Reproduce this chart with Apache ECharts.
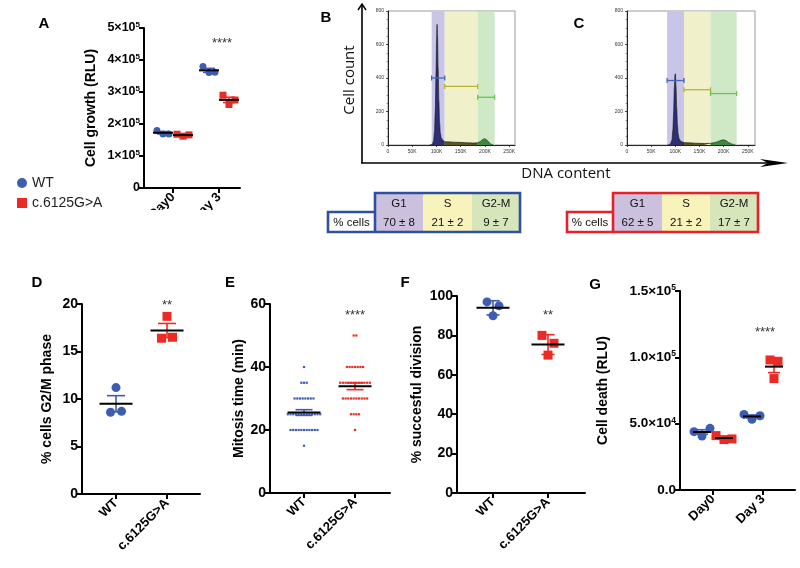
<!DOCTYPE html>
<html><head><meta charset="utf-8">
<script src="https://cdn.jsdelivr.net/npm/echarts@6/dist/echarts.min.js"></script>
<style>html,body{margin:0;padding:0;background:#fff}#c{width:800px;height:568px}</style>
</head><body><div id="c"></div><script>
// ---------------- data ----------------
const groupNames = ['WT', 'c.6125G>A'];
const dayNames = ['Day0', 'Day 3'];
// A: cell growth (RLU), [Day0, Day3]
const growthWT  = [[1.80e5, 1.69e5, 1.69e5], [3.80e5, 3.61e5, 3.62e5]];
const growthMut = [[1.68e5, 1.62e5, 1.66e5], [2.90e5, 2.61e5, 2.75e5]];
// D: % cells G2/M
const g2mWT  = [11.2, 8.6, 8.7];
const g2mMut = [18.7, 16.4, 16.5];
// E: mitosis time (min)
const mitosisWT  = [40,35,35,35,30,30,30,30,30,30,30,30,25,25,25,25,25,25,25,25,25,25,25,25,25,20,20,20,20,20,20,20,20,20,20,20,15];
const mitosisMut = [50,50,40,40,40,40,40,40,40,35,35,35,35,35,35,35,35,35,35,35,35,30,30,30,30,30,30,30,30,30,30,25,25,25,25,20];
// F: % successful division
const divisionWT  = [97, 95, 90];
const divisionMut = [80, 76, 70];
// G: cell death (RLU), [Day0, Day3]
const deathWT  = [[4.40e4, 4.07e4, 4.65e4], [5.70e4, 5.33e4, 5.60e4]];
const deathMut = [[4.10e4, 3.80e4, 3.85e4], [9.80e4, 8.40e4, 9.70e4]];
// B/C: DNA content histograms (x in K, cell count)
const dnaTicks = [0, 50, 100, 150, 200, 250];
const countTicks = [0, 200, 400, 600, 800];
const histB_G1 = [[86,0],[89,2],[92,8],[94,25],[96,80],[97.5,200],[99,420],[100.3,640],[101.2,720],[102.2,650],[103.5,460],[105,260],[106.5,130],[108,70],[110,42],[113,28],[117,20]];
const histB_S  = [[117,20],[125,19],[135,17],[145,16],[155,15],[165,13],[175,12],[185,13]];
const histB_G2 = [[185,13],[190,20],[195,32],[199,38],[203,32],[207,20],[211,8],[215,2],[218,0]];
const histC_G1 = [[83,0],[87,2],[90,8],[93,30],[95,90],[96.5,190],[98,340],[99.3,420],[100.3,425],[101.5,350],[103,220],[104.5,120],[106,65],[108,38],[111,24],[114,18],[118,15]];
const histC_S  = [[118,15],[130,13],[140,11],[150,10],[160,9],[173,10]];
const histC_G2 = [[173,10],[180,13],[188,20],[195,28],[200,31],[205,26],[211,14],[218,5],[225,0]];
// gates: [from, to, level]
const gatesB = [[90,117,400],[117,185,350],[185,220,285]];
const gatesC = [[83,118,385],[118,173,330],[173,227,307]];
// tables
const phases = ['G1', 'S', 'G2-M'];
const rowLabel = '% cells';
const pctWT  = ['70 ± 8', '21 ± 2', '9 ± 7'];
const pctMut = ['62 ± 5', '21 ± 2', '17 ± 7'];
const starsA = '****', starsD = '**', starsE = '****', starsF = '**', starsG = '****';

// ---------------- styling / layout ----------------
const FONT = 'Liberation Sans, Arial, Helvetica, sans-serif';
const BLUE = '#3d5db1', RED = '#ec2a24';
const P = {
  A: {grid:{left:144,top:28,width:96,height:160}, x:[0.37,2.457], y:[0,5e5], yi:1e5},
  D: {grid:{left:82,top:304,width:118,height:190}, x:[0.333,2.647], y:[0,20], yi:5},
  E: {grid:{left:270,top:304,width:120,height:189}, x:[0.333,2.686], y:[0,60], yi:20},
  F: {grid:{left:457,top:296,width:128,height:197}, x:[0.345,2.673], y:[0,100], yi:20},
  G: {grid:{left:680,top:291,width:115,height:199}, x:[0.34,2.64], y:[0,1.5e5], yi:5e4},
  B: {grid:{left:388,top:11,width:127,height:134}, x:[0,262]},
  C: {grid:{left:627,top:11,width:128,height:134}, x:[0,265]}
};
const order = ['A','D','E','F','G','B','C'];
const gi = k => order.indexOf(k);
const pxX = k => P[k].grid.width / (P[k].x[1]-P[k].x[0]);
const pxY = k => P[k].grid.height / (P[k].y[1]-P[k].y[0]);

const mean = a => a.reduce((s,v)=>s+v,0)/a.length;
const sd = a => { const m = mean(a); return Math.sqrt(a.reduce((s,v)=>s+(v-m)*(v-m),0)/(a.length-1)); };
const sem = a => sd(a)/Math.sqrt(a.length);

// row-based swarm: points closer than diam vertically share a row
function swarm(vals, center, k, diam, gap) {
  const ix = vals.map((v,i)=>i).sort((a,b)=>vals[a]-vals[b] || a-b);
  const rows = []; let cur = [];
  for (const i of ix) {
    if (cur.length && (vals[i]-vals[cur[cur.length-1]])*pxY(k) > diam) { rows.push(cur); cur = []; }
    cur.push(i);
  }
  if (cur.length) rows.push(cur);
  const pts = [];
  rows.forEach(r => { r.sort((a,b)=>a-b); r.forEach((i,j)=>{ pts[i] = [center + (j-(r.length-1)/2)*gap/pxX(k), vals[i]]; }); });
  return pts;
}
function dots(k, name, pts, symbol, size, color) {
  const s = {type:'scatter', xAxisIndex:gi(k), yAxisIndex:gi(k), data:pts, symbol, symbolSize:size,
    itemStyle:{color, opacity:1}, z:3, silent:true, animation:false};
  if (name) s.name = name;
  return s;
}
function meanErr(k, items, color, mw, cap) {
  return {type:'custom', xAxisIndex:gi(k), yAxisIndex:gi(k), z:5, silent:true, animation:false,
    data:items, encode:{x:0, y:1},
    renderItem:(params, api) => {
      const x = api.value(0), m = api.value(1), e = api.value(2);
      const c = api.coord([x,m]), t = api.coord([x,m+e]), b = api.coord([x,m-e]);
      const ls = () => ({stroke:color, lineWidth:1.6});
      return {type:'group', children:[
        {type:'line', shape:{x1:c[0],y1:t[1],x2:c[0],y2:b[1]}, style:ls()},
        {type:'line', shape:{x1:c[0]-cap/2,y1:t[1],x2:c[0]+cap/2,y2:t[1]}, style:ls()},
        {type:'line', shape:{x1:c[0]-cap/2,y1:b[1],x2:c[0]+cap/2,y2:b[1]}, style:ls()},
        {type:'line', shape:{x1:c[0]-mw/2,y1:c[1],x2:c[0]+mw/2,y2:c[1]}, style:{stroke:'#000', lineWidth:2}}
      ]};
    }};
}
const richA = {
  b:{fontFamily:FONT, fontWeight:'bold', fontSize:12.5, color:'#000', lineHeight:15},
  s:{fontFamily:FONT, fontWeight:'bold', fontSize:8, color:'#000', verticalAlign:'top', lineHeight:9}
};
const richG = {
  b:{fontFamily:FONT, fontWeight:'bold', fontSize:13.5, color:'#000', lineHeight:16},
  s:{fontFamily:FONT, fontWeight:'bold', fontSize:8.5, color:'#000', verticalAlign:'top', lineHeight:9}
};
function dotXAxis(k, labels) {
  return {type:'value', gridIndex:gi(k), min:P[k].x[0], max:P[k].x[1],
    axisLine:{show:true, onZero:false, lineStyle:{color:'#000', width:2}},
    axisTick:{show:true, customValues:[1,2], length:5, lineStyle:{color:'#000', width:2}},
    axisLabel:{customValues:[1,2], rotate:45, margin:7, formatter:v=>labels[Math.round(v)-1],
      fontFamily:FONT, fontWeight:'bold', fontSize:13, color:'#000'},
    splitLine:{show:false}};
}
function dotYAxis(k, name, gap, fmt, rich) {
  return {type:'value', gridIndex:gi(k), min:P[k].y[0], max:P[k].y[1], interval:P[k].yi,
    name, nameLocation:'middle', nameGap:gap, nameRotate:90,
    nameTextStyle:{fontFamily:FONT, fontWeight:'bold', fontSize:14, color:'#000'},
    axisLine:{show:true, onZero:false, lineStyle:{color:'#000', width:2}},
    axisTick:{show:true, length:5, lineStyle:{color:'#000', width:2}},
    axisLabel:{formatter:fmt, fontFamily:FONT, fontWeight:'bold', fontSize:14, color:'#000', margin:4, rich:rich||richA},
    splitLine:{show:false}};
}
function histXAxis(k) {
  return {type:'value', gridIndex:gi(k), min:P[k].x[0], max:P[k].x[1], interval:50,
    axisLine:{show:true, onZero:false, lineStyle:{color:'#222', width:1}},
    axisTick:{show:true, customValues:dnaTicks, length:2, lineStyle:{color:'#222', width:0.8}},
    minorTick:{show:true, splitNumber:5, length:1.3, lineStyle:{color:'#444', width:0.6}},
    axisLabel:{customValues:dnaTicks, formatter:v=>v?v+'K':'0', fontSize:5, color:'#333', margin:4, fontFamily:FONT},
    splitLine:{show:false}, minorSplitLine:{show:false}};
}
function histYAxis(k) {
  return {type:'value', gridIndex:gi(k), min:0, max:800, interval:200,
    axisLine:{show:true, onZero:false, lineStyle:{color:'#222', width:1}},
    axisTick:{show:true, customValues:countTicks, length:2, lineStyle:{color:'#222', width:0.8}},
    minorTick:{show:true, splitNumber:4, length:1.3, lineStyle:{color:'#444', width:0.6}},
    axisLabel:{customValues:countTicks, fontSize:5, color:'#333', margin:4, fontFamily:FONT},
    splitLine:{show:false}, minorSplitLine:{show:false}};
}
const bandColors = ['#c8c5e8', '#f0f0ca', '#cfe8c6'];
const gateColors = ['#4565b8', '#b8b43a', '#66c84a'];
const histColors = ['#2d2f72', '#5a5722', '#3b8b3f'];
function histSeries(k, parts, gates) {
  const out = [];
  out.push({type:'custom', xAxisIndex:gi(k), yAxisIndex:gi(k), z:1, silent:true, animation:false,
    data:gates.map((g,i)=>[g[0],g[1],g[2],i]), encode:{x:[0,1], y:2}, clip:false,
    renderItem:(params, api) => {
      const a = api.coord([api.value(0),0]), b = api.coord([api.value(1),0]);
      const cs = params.coordSys;
      return {type:'rect', shape:{x:a[0], y:cs.y+0.5, width:b[0]-a[0], height:cs.height-0.5},
        style:{fill:bandColors[api.value(3)]}};
    }});
  parts.forEach((d,i) => out.push({type:'line', xAxisIndex:gi(k), yAxisIndex:gi(k), data:d, z:3,
    smooth:0.3, smoothMonotone:'x', showSymbol:false, symbol:'none', silent:true, animation:false,
    lineStyle:{color:'#151515', width:0.6}, areaStyle:{color:histColors[i], opacity:1}}));
  out.push({type:'custom', xAxisIndex:gi(k), yAxisIndex:gi(k), z:6, silent:true, animation:false,
    data:gates.map((g,i)=>[g[0],g[1],g[2],i]), encode:{x:[0,1], y:2},
    renderItem:(params, api) => {
      const a = api.coord([api.value(0),api.value(2)]), b = api.coord([api.value(1),api.value(2)]);
      const st = () => ({stroke:gateColors[api.value(3)], lineWidth:1.3});
      return {type:'group', children:[
        {type:'line', shape:{x1:a[0],y1:a[1],x2:b[0],y2:b[1]}, style:st()},
        {type:'line', shape:{x1:a[0],y1:a[1]-2.5,x2:a[0],y2:a[1]+2.5}, style:st()},
        {type:'line', shape:{x1:b[0],y1:b[1]-2.5,x2:b[0],y2:b[1]+2.5}, style:st()}
      ]};
    }});
  return out;
}

// ---------------- build series ----------------
const series = [];
// A
const offA = 10 / pxX('A');
[0,1].forEach(d => {
  const cW = d+1-offA, cM = d+1+offA;
  series.push(dots('A', d===0?groupNames[0]:null, swarm(growthWT[d], cW, 'A', 7, 6), 'circle', 7, BLUE));
  series.push(dots('A', d===0?groupNames[1]:null, swarm(growthMut[d], cM, 'A', 7, 6), 'rect', 7, RED));
  series.push(meanErr('A', [[cW, mean(growthWT[d]), sem(growthWT[d])]], BLUE, 20, 12));
  series.push(meanErr('A', [[cM, mean(growthMut[d]), sem(growthMut[d])]], RED, 20, 12));
});
// D
series.push(dots('D', null, swarm(g2mWT, 1, 'D', 9, 11), 'circle', 9, BLUE));
series.push(dots('D', null, swarm(g2mMut, 2, 'D', 9, 11), 'rect', 9, RED));
series.push(meanErr('D', [[1, mean(g2mWT), sem(g2mWT)]], BLUE, 33, 18));
series.push(meanErr('D', [[2, mean(g2mMut), sem(g2mMut)]], RED, 33, 18));
// E
series.push(dots('E', null, swarm(mitosisWT, 1, 'E', 2, 2.7), 'rect', 2.2, BLUE));
series.push(dots('E', null, swarm(mitosisMut, 2, 'E', 2, 2.7), 'rect', 2.2, RED));
series.push(meanErr('E', [[1, mean(mitosisWT), sem(mitosisWT)]], BLUE, 33, 17));
series.push(meanErr('E', [[2, mean(mitosisMut), sem(mitosisMut)]], RED, 33, 17));
// F (mean ± SD)
series.push(dots('F', null, swarm(divisionWT, 1, 'F', 9, 12), 'circle', 9, BLUE));
series.push(dots('F', null, swarm(divisionMut, 2, 'F', 9, 12), 'rect', 9, RED));
series.push(meanErr('F', [[1, mean(divisionWT), sd(divisionWT)]], BLUE, 33, 13));
series.push(meanErr('F', [[2, mean(divisionMut), sd(divisionMut)]], RED, 33, 13));
// G
const offG = 11 / pxX('G');
[0,1].forEach(d => {
  const cW = d+1-offG, cM = d+1+offG;
  series.push(dots('G', null, swarm(deathWT[d], cW, 'G', 9, 8), 'circle', 9, BLUE));
  series.push(dots('G', null, swarm(deathMut[d], cM, 'G', 9, 8), 'rect', 9, RED));
  series.push(meanErr('G', [[cW, mean(deathWT[d]), sem(deathWT[d])]], BLUE, 18, 12));
  series.push(meanErr('G', [[cM, mean(deathMut[d]), sem(deathMut[d])]], RED, 18, 12));
});
// B, C
series.push(...histSeries('B', [histB_G1, histB_S, histB_G2], gatesB));
series.push(...histSeries('C', [histC_G1, histC_S, histC_G2], gatesC));

// ---------------- axes ----------------
const fmtA = v => v === 0 ? '{b|0}' : `{b|${v/1e5}×10}{s|5}`;
const fmtG = v => v === 0 ? '{b|0.0}' : (v >= 1e5 ? `{b|${(v/1e5).toFixed(1)}×10}{s|5}` : `{b|${(v/1e4).toFixed(1)}×10}{s|4}`);
const xAxis = [
  dotXAxis('A', dayNames), dotXAxis('D', groupNames), dotXAxis('E', groupNames),
  dotXAxis('F', groupNames), dotXAxis('G', dayNames), histXAxis('B'), histXAxis('C')
];
const yAxis = [
  dotYAxis('A', 'Cell growth (RLU)', 46, fmtA, richA), dotYAxis('D', '% cells G2/M phase', 28, null),
  dotYAxis('E', 'Mitosis time (min)', 18, null), dotYAxis('F', '% succesful division', 33, null),
  dotYAxis('G', 'Cell death (RLU)', 70, fmtG, richG), histYAxis('B'), histYAxis('C')
];
const grid = order.map(k => Object.assign({containLabel:false, outerBoundsMode:'none'}, P[k].grid,
  (k==='B'||k==='C') ? {show:true, borderColor:'#9a9a9a', borderWidth:1, backgroundColor:'#fff'} : {}));

// ---------------- graphics ----------------
const txt = (t, x, y, o) => Object.assign({type:'text', x, y, silent:true,
  style:Object.assign({text:t, fill:'#111', fontFamily:FONT, fontSize:11.5, align:'center', verticalAlign:'middle'}, o||{})});
const letter = (t, x, y) => txt(t, x, y, {fontSize:15, fontWeight:'bold', fill:'#000'});
function table(x0, xs, top, mid, bot, color, vals) {
  const fills = ['#cbc0dd', '#f8f3bb', '#d7e5bb'];
  const els = [{type:'rect', shape:{x:x0, y:mid, width:xs[0]-x0, height:bot-mid}, style:{fill:'#fff'}}];
  for (let i = 0; i < 3; i++) {
    els.push({type:'rect', shape:{x:xs[i], y:top, width:xs[i+1]-xs[i], height:bot-top}, style:{fill:fills[i]}});
    els.push(txt(phases[i], (xs[i]+xs[i+1])/2, (top+mid)/2+1));
    els.push(txt(vals[i], (xs[i]+xs[i+1])/2, (mid+bot)/2+1));
  }
  els.push(txt(rowLabel, (x0+xs[0])/2, (mid+bot)/2+1));
  els.push({type:'polyline', shape:{points:[[xs[0],mid],[xs[0],top],[xs[3],top],[xs[3],bot],[x0,bot],[x0,mid],[xs[0],mid],[xs[0],bot]]},
    style:{stroke:color, lineWidth:2.6, fill:null, lineJoin:'miter'}});
  return els;
}
const starStyle = {fontSize:13, fill:'#333'};
const graphic = [
  letter('A', 44, 24), letter('B', 326, 18), letter('C', 579, 24), letter('D', 37, 283),
  letter('E', 230, 283), letter('F', 405, 283), letter('G', 595, 285),
  // clip panel A x labels like the reference crop
  {type:'rect', z:100, shape:{x:140, y:210, width:115, height:40}, style:{fill:'#fff'}},
  // cytometry big axes
  {type:'line', shape:{x1:362, y1:163, x2:362, y2:5}, style:{stroke:'#000', lineWidth:1.6}},
  {type:'polyline', shape:{points:[[358,10],[362,4],[366,10]]}, style:{stroke:'#000', lineWidth:1.4, fill:null}},
  {type:'line', shape:{x1:361, y1:163, x2:772, y2:163}, style:{stroke:'#000', lineWidth:1.6}},
  {type:'polygon', shape:{points:[[760,159],[788,163],[760,167],[768,163]]}, style:{fill:'#000'}},
  txt('Cell count', 350, 80, {fontFamily:'Open Sans, DejaVu Sans, sans-serif', fontSize:15, fill:'#111'}),
  txt('DNA content', 566, 174, {fontFamily:'Open Sans, DejaVu Sans, sans-serif', fontSize:15, fill:'#111'}),
  ...table(328, [375,423,472,520], 193, 212, 232, '#2e50a0', pctWT),
  ...table(567, [613,662,710,758], 193, 212, 232, '#e8202a', pctMut),
  txt(starsA, 222, 43, starStyle), txt(starsD, 167, 305, starStyle), txt(starsE, 355, 315, starStyle),
  txt(starsF, 548, 315, starStyle), txt(starsG, 765, 332, starStyle)
];
// rotate "Cell count"
graphic.forEach(g => { if (g.style && g.style.text === 'Cell count') g.rotation = Math.PI/2; });

const chart = echarts.init(document.getElementById('c'), null, {renderer:'canvas', width:800, height:568});
chart.setOption({
  animation:false,
  backgroundColor:'#fff',
  textStyle:{fontFamily:FONT},
  legend:{data:groupNames, orient:'vertical', left:12, top:171, itemWidth:10, itemHeight:10, itemGap:6,
    selectedMode:false, textStyle:{fontFamily:FONT, fontSize:14, color:'#222'}},
  grid, xAxis, yAxis, series, graphic
});
</script></body></html>
